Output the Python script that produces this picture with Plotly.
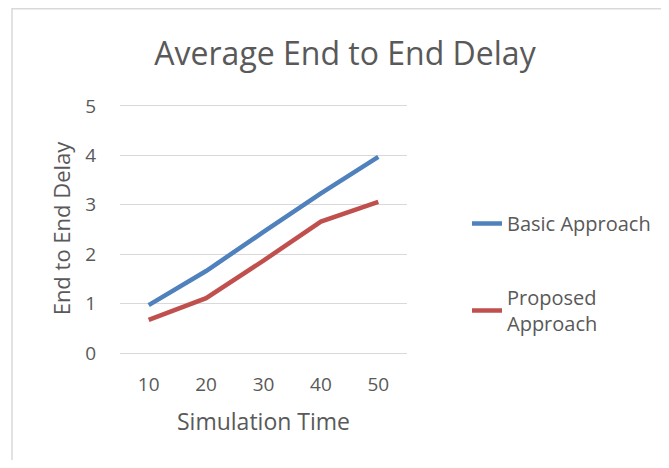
import plotly.graph_objects as go

categories = ["10", "20", "30", "40", "50"]
basic = [0.97, 1.66, 2.45, 3.23, 3.97]
proposed = [0.67, 1.11, 1.87, 2.66, 3.06]
series_names = ["Basic Approach", "Proposed<br>Approach"]
colors = ["#4f81bd", "#c0504d"]

# page body has an 8px margin, so figure is sized to fit the window
W, H = 653, 452
YMAX = 5.04
L, T = 112, 96
R = W - 399
B = H - 345
pw, ph = W - L - R, H - T - B

fig = go.Figure()
for i, (name, vals) in enumerate(zip(series_names, [basic, proposed])):
    fig.add_trace(go.Scatter(x=categories, y=vals, mode="lines", name=name,
                             legendgroup=str(i),
                             line=dict(color=colors[i], width=4.5)))

font_family = "Open Sans"
gray = "#595959"

fig.update_layout(
    width=W, height=H,
    margin=dict(l=L, r=R, t=T, b=B, autoexpand=False),
    paper_bgcolor="white", plot_bgcolor="white",
    title=dict(text="Average End to End Delay", x=(337 - L) / pw, xref="paper",
               xanchor="center", y=1 - 46 / H, yanchor="middle",
               font=dict(family=font_family, size=32, color=gray)),
    font=dict(family=font_family, color=gray),
    xaxis=dict(type="category", range=[-0.5, 4.5], showgrid=False,
               showline=False, ticks="", zeroline=False, ticklabelstandoff=18,
               tickfont=dict(size=19, color=gray),
               title=dict(text="Simulation Time", font=dict(size=23, color=gray), standoff=17)),
    yaxis=dict(range=[0, YMAX], dtick=1, showgrid=True, gridcolor="#d9d9d9", gridwidth=1,
               zeroline=True, zerolinecolor="#d9d9d9", zerolinewidth=1,
               showline=False, ticks="", ticklabelstandoff=23,
               tickfont=dict(size=19, color=gray),
               title=dict(text="End to End Delay", font=dict(size=22, color=gray), standoff=8)),
    legend=dict(x=(459 - L) / pw, xanchor="left", y=1 - (196 - T) / ph, yanchor="top",
                traceorder="grouped", tracegroupgap=45,
                font=dict(size=20, color=gray), bgcolor="rgba(0,0,0,0)"),
    shapes=[dict(type="rect", xref="paper", yref="paper",
                 x0=(4 - L) / pw, x1=(W + 10 - L) / pw,
                 y0=-(B + 10) / ph, y1=1 + (T - 0.75) / ph,
                 line=dict(color="#d9d9d9", width=1.5), fillcolor="rgba(0,0,0,0)",
                 layer="below")],
)

fig.write_html("out.html")
